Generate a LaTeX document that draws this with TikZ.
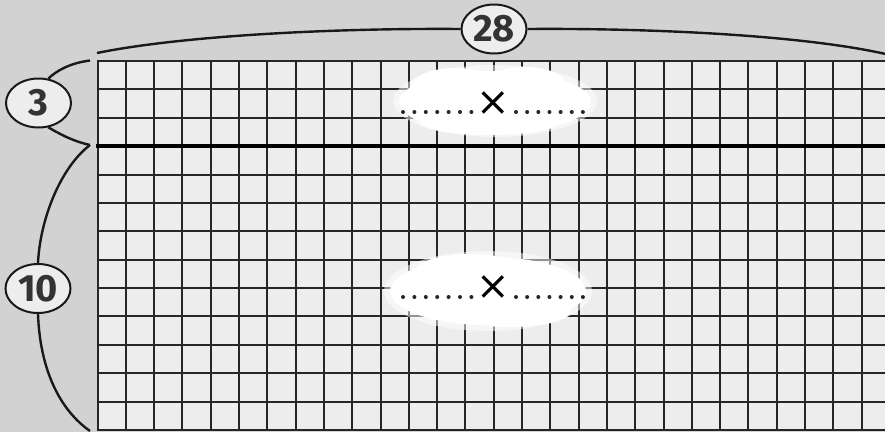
\documentclass[tikz,border=0pt]{standalone}
\usepackage{fontspec}
\newfontfamily\numfont{Fira Sans}
\newfontfamily\xfont{DejaVu Sans}
\usetikzlibrary{shapes.geometric}
\definecolor{bgc}{HTML}{D2D2D2}
\definecolor{cellc}{HTML}{EDEDED}
\definecolor{inkc}{HTML}{262626}
\definecolor{numc}{HTML}{333333}
\tikzset{
  gridline/.style={draw=inkc, line width=2pt},
  bracel/.style={draw=black!90, line width=2.4pt},
  numoval/.style={ellipse, draw=black!90, line width=2pt, fill=cellc,
    minimum width=65pt, minimum height=49pt, inner sep=0pt,
    font=\numfont\bfseries\fontsize{38}{38}\selectfont, text=numc},
  cloudfill/.style={fill=white},
  blank/.style={fill=black!85, draw=none},
  timesmark/.style={inner sep=0pt, font=\xfont\fontsize{40}{40}\selectfont}
}
\begin{document}
\begin{tikzpicture}[x=1pt,y=-1pt]
\useasboundingbox (0,0) rectangle (885,432);
\clip (0,0) rectangle (885,432);
\fill[bgc] (0,0) rectangle (885,432);
% grid
\fill[cellc] (97.5,61) rectangle (900,430);
\foreach \i in {0,...,28}{
  \draw[gridline] (97.5+\i*28.3,61) -- (97.5+\i*28.3,430);
}
\foreach \j in {0,...,13}{
  \draw[gridline] (96.5,61+\j*28.38) -- (900,61+\j*28.38);
}
\draw[draw=black, line width=3.6pt] (96,146.1) -- (900,146.1);
% clouds
\fill[white, opacity=0.5] (495,101) ellipse [x radius=102, y radius=36];
\fill[cloudfill] (495,102) ellipse [x radius=96, y radius=31];
\fill[cloudfill] (455,88) ellipse [x radius=45, y radius=20];
\fill[cloudfill] (525,84) ellipse [x radius=40, y radius=17];
\fill[cloudfill] (490,122) ellipse [x radius=70, y radius=13];
\fill[white, opacity=0.5] (488,291) ellipse [x radius=104, y radius=40];
\fill[cloudfill] (488,291) ellipse [x radius=98, y radius=34];
\fill[cloudfill] (470,272) ellipse [x radius=55, y radius=18];
\fill[cloudfill] (510,312) ellipse [x radius=60, y radius=15];
% blanks
\foreach \y in {112,297}{
  \foreach \k in {0,...,6}{
    \fill[blank] (403+\k*11.4,\y) circle (2);
    \fill[blank] (516+\k*11.15,\y) circle (2);
  }
}
\node[timesmark] (x1) at (493,103.5) {×};
\node[timesmark] (x2) at (493,288) {×};
% number ovals
\node[numoval] (n28) at (494,29) {28};
\node[numoval] (n3) at (38.5,103) {3};
\node[numoval] (n10) at (38,288.5) {10};
% brace points
\coordinate (tl) at (97,53);
\coordinate (tr) at (890,55);
\coordinate (b3top) at (90,60.5);
\coordinate (tip) at (90,145);
\coordinate (bbot) at (90,431);
% braces
\draw[bracel] (tl) .. controls (180,36) and (330,28) .. (n28.west);
\draw[bracel] (n28.east) .. controls (660,28) and (810,36) .. (tr);
\draw[bracel] (b3top) .. controls (70,63) and (56,71) .. (n3.68);
\draw[bracel] (n3.-68) .. controls (58,133) and (72,141) .. (tip);
\draw[bracel] (tip) .. controls (60,168) and (40,220) .. (n10.north);
\draw[bracel] (n10.south) .. controls (40,370) and (60,410) .. (bbot);
\end{tikzpicture}
\end{document}
